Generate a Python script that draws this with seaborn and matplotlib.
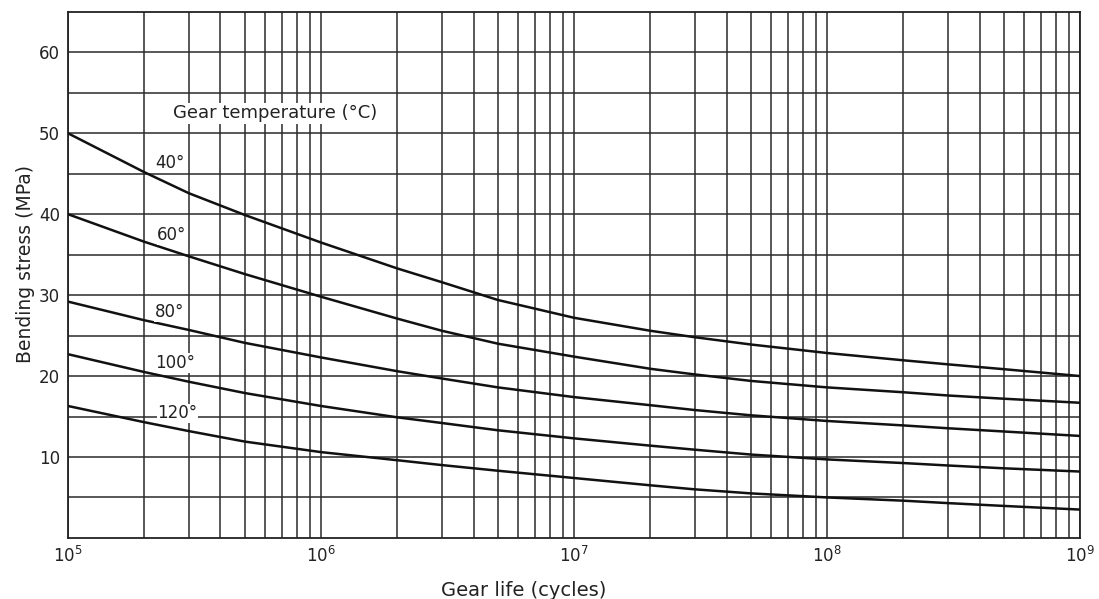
import numpy as np
import pandas as pd
import matplotlib
matplotlib.use("Agg")
import matplotlib.pyplot as plt
import seaborn as sns
from matplotlib.ticker import LogLocator, FixedLocator, NullFormatter

# Data
cycles = [1e5, 2e5, 3e5, 5e5, 1e6, 2e6, 3e6, 5e6, 1e7, 2e7, 3e7, 5e7,
          1e8, 2e8, 3e8, 5e8, 1e9]
stress_40 = [50.0, 45.2, 42.6, 39.9, 36.5, 33.3, 31.6, 29.4, 27.2, 25.6, 24.8, 23.9,
             22.85, 21.95, 21.45, 20.85, 20.0]
stress_60 = [40.0, 36.6, 34.8, 32.6, 29.8, 27.1, 25.6, 24.0, 22.4, 20.9, 20.2, 19.4,
             18.6, 18.0, 17.6, 17.2, 16.7]
stress_80 = [29.2, 26.9, 25.7, 24.1, 22.3, 20.6, 19.7, 18.6, 17.4, 16.4, 15.8, 15.15,
             14.45, 13.9, 13.55, 13.15, 12.6]
stress_100 = [22.7, 20.5, 19.3, 17.9, 16.3, 14.9, 14.2, 13.3, 12.3, 11.4, 10.9, 10.3,
              9.7, 9.25, 8.95, 8.6, 8.2]
stress_120 = [16.3, 14.3, 13.2, 11.9, 10.6, 9.6, 9.0, 8.3, 7.4, 6.5, 6.0, 5.5,
              5.0, 4.6, 4.3, 3.95, 3.5]
temperatures = ["40°", "60°", "80°", "100°", "120°"]
label_pos = [(2.2e5, 46.3), (2.25e5, 37.4), (2.2e5, 27.9), (2.2e5, 21.6), (2.25e5, 15.4)]
y_ticks = [10, 20, 30, 40, 50, 60]
x_ticks = [1e5, 1e6, 1e7, 1e8, 1e9]
x_tick_labels = [r"$10^5$", r"$10^6$", r"$10^7$", r"$10^8$", r"$10^9$"]

series = [stress_40, stress_60, stress_80, stress_100, stress_120]
df = pd.concat([pd.DataFrame({"cycles": cycles, "stress": s, "temp": t})
                for s, t in zip(series, temperatures)], ignore_index=True)

sns.set_theme(style="white")
plt.rcParams["font.family"] = ["DejaVu Sans"]

fig = plt.figure(figsize=(10.99, 5.99), dpi=100)
ax = fig.add_axes([0.062, 0.102, 0.921, 0.878])

sns.lineplot(data=df, x="cycles", y="stress", hue="temp",
             palette=["#111111"] * 5, legend=False, linewidth=1.8, ax=ax,
             zorder=3)

ax.set_xscale("log")
ax.set_xlim(1e5, 1e9)
ax.set_ylim(0, 65)

# grid
ax.xaxis.set_major_locator(FixedLocator(x_ticks))
ax.xaxis.set_minor_locator(LogLocator(base=10, subs=np.arange(2, 10)))
ax.xaxis.set_minor_formatter(NullFormatter())
ax.set_xticklabels(x_tick_labels)
ax.yaxis.set_major_locator(FixedLocator(y_ticks))
ax.yaxis.set_minor_locator(FixedLocator([5, 15, 25, 35, 45, 55]))
ax.grid(which="both", axis="both", color="#2a2a2a", linewidth=1.1)
ax.set_axisbelow(True)
ax.tick_params(which="both", length=0, labelsize=12, colors="#222222", pad=6)

for sp in ax.spines.values():
    sp.set_color("#222222")
    sp.set_linewidth(1.3)

for (x, y), t in zip(label_pos, temperatures):
    ax.text(x, y, t, fontsize=12, color="#222222", ha="left", va="center",
            zorder=4, bbox=dict(facecolor="white", edgecolor="none", pad=0.5))

ax.text(2.6e5, 52.5, "Gear temperature (°C)", fontsize=13, color="#222222",
        ha="left", va="center", zorder=4,
        bbox=dict(facecolor="white", edgecolor="none", pad=1))

ax.set_xlabel("Gear life (cycles)", fontsize=14, color="#222222")
ax.set_ylabel("Bending stress (MPa)", fontsize=13.5, color="#222222")
ax.xaxis.set_label_coords(0.45, -0.082)
ax.yaxis.set_label_coords(-0.033, 0.52)

fig.savefig("out.png", dpi=100, facecolor="white")
